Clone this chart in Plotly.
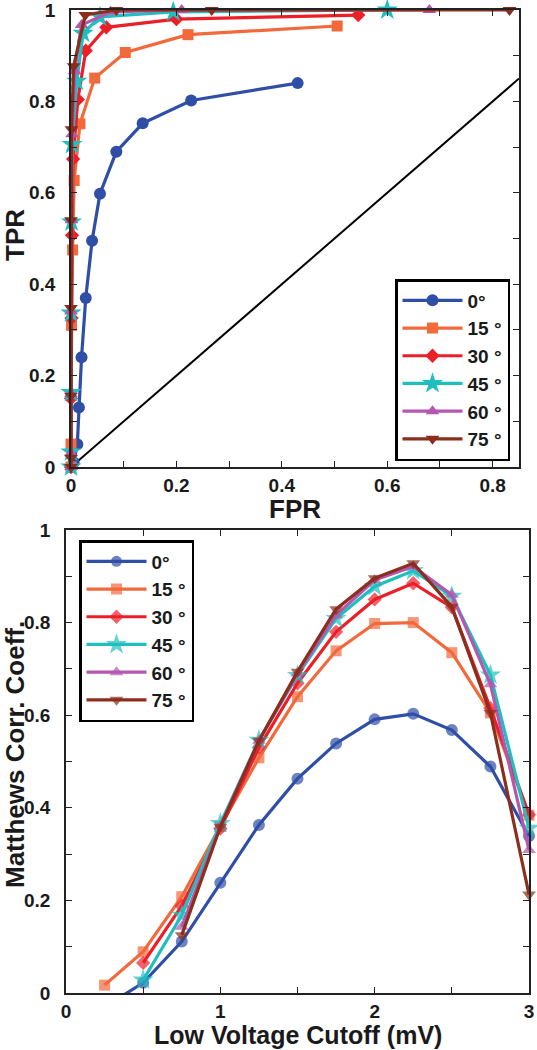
import plotly.graph_objects as go

W, H = 537, 1050

angles = ["0°", "15 °", "30 °", "45 °", "60 °", "75 °"]
colors = ["#2F4EA6", "#F2693C", "#EC1F28", "#1FBFC0", "#B457AE", "#8C2E1D"]
symbols = ["circle", "square", "diamond", "star", "triangle-up", "triangle-down"]
msizes = [12, 11, 11, 16, 12, 12]

# ROC data (FPR, TPR)
fpr_0 = [0.0, 0.005, 0.012, 0.015, 0.020, 0.028, 0.040, 0.055, 0.086, 0.136, 0.228, 0.43]
tpr_0 = [0.0, 0.01, 0.05, 0.13, 0.24, 0.37, 0.495, 0.598, 0.69, 0.752, 0.802, 0.84]
fpr_15 = [0.0, 0.0, 0.001, 0.003, 0.006, 0.017, 0.045, 0.103, 0.222, 0.505]
tpr_15 = [0.0, 0.05, 0.31, 0.475, 0.627, 0.751, 0.851, 0.907, 0.946, 0.965]
fpr_30 = [0.0, 0.0, 0.001, 0.002, 0.004, 0.013, 0.028, 0.067, 0.2, 0.545]
tpr_30 = [0.0, 0.15, 0.326, 0.507, 0.674, 0.804, 0.911, 0.962, 0.980, 0.989]
fpr_45 = [0.0, 0.0, 0.0, 0.0, 0.001, 0.002, 0.011, 0.023, 0.055, 0.194, 0.6]
tpr_45 = [0.0, 0.033, 0.163, 0.337, 0.536, 0.706, 0.844, 0.949, 0.985, 0.996, 1.0]
fpr_60 = [0.0, 0.0, 0.0, 0.0, 0.001, 0.002, 0.007, 0.02, 0.075, 0.21, 0.68]
tpr_60 = [0.0, 0.03, 0.16, 0.34, 0.54, 0.728, 0.866, 0.967, 0.996, 1.0, 1.0]
fpr_75 = [0.0, 0.0, 0.0, 0.0, 0.0, 0.001, 0.005, 0.027, 0.086, 0.267, 0.832]
tpr_75 = [0.0, 0.02, 0.156, 0.348, 0.54, 0.739, 0.877, 0.989, 1.0, 1.0, 1.0]
chance = [0.0, 0.85]

# Matthews correlation vs low voltage cutoff
cutoff = [0.25, 0.5, 0.75, 1.0, 1.25, 1.5, 1.75, 2.0, 2.25, 2.5, 2.75, 3.0]
mcc_0 = [-0.03, 0.022, 0.111, 0.238, 0.363, 0.463, 0.539, 0.591, 0.603, 0.568, 0.489, 0.339]
mcc_15 = [0.017, 0.089, 0.208, 0.36, 0.508, 0.640, 0.739, 0.798, 0.800, 0.735, 0.605, 0.384]
mcc_30 = [None, 0.065, 0.188, 0.355, 0.53, 0.669, 0.780, 0.850, 0.885, 0.833, 0.615, 0.385]
mcc_45 = [None, 0.028, 0.168, 0.366, 0.546, 0.686, 0.809, 0.878, 0.912, 0.857, 0.687, 0.356]
mcc_60 = [None, None, 0.143, 0.36, 0.545, 0.69, 0.816, 0.892, 0.921, 0.860, 0.667, 0.309]
mcc_75 = [None, None, 0.125, 0.359, 0.545, 0.694, 0.829, 0.896, 0.928, 0.834, 0.605, 0.213]

roc = [(fpr_0, tpr_0), (fpr_15, tpr_15), (fpr_30, tpr_30),
       (fpr_45, tpr_45), (fpr_60, tpr_60), (fpr_75, tpr_75)]
mcc = [mcc_0, mcc_15, mcc_30, mcc_45, mcc_60, mcc_75]

FONT = "Liberation Sans, Arial, Helvetica, sans-serif"

fig = go.Figure()
fig.add_trace(go.Scatter(x=chance, y=chance, mode="lines",
                         line=dict(color="black", width=2),
                         showlegend=False, xaxis="x", yaxis="y", hoverinfo="skip"))
for i, (fx, ty) in enumerate(roc):
    fig.add_trace(go.Scatter(
        x=fx, y=ty, mode="lines+markers", name=angles[i],
        line=dict(color=colors[i], width=3.2),
        marker=dict(symbol=symbols[i], size=msizes[i], color=colors[i], line=dict(width=0)),
        xaxis="x", yaxis="y", legend="legend", cliponaxis=False))

for i, yv in enumerate(mcc):
    sizes = [0 if (v is not None and v < 0) else msizes[i] for v in yv]
    fig.add_trace(go.Scatter(
        x=cutoff, y=yv, mode="lines+markers", name=angles[i],
        line=dict(color=colors[i], width=3.2),
        marker=dict(symbol=symbols[i], size=sizes, color=colors[i], line=dict(width=0)),
        xaxis="x2", yaxis="y2", legend="legend2", cliponaxis=False))

tickfont = dict(family=FONT, size=19, color="#1a1a1a", weight="bold")

def ticks(vals, labelstep):
    txt = []
    for k, v in enumerate(vals):
        txt.append(("%g" % v) if k % labelstep == 0 else "")
    return txt

tv01 = [round(0.1 * k, 1) for k in range(0, 9)]
tvy = [round(0.1 * k, 1) for k in range(0, 11)]
tvx2 = [0.5 * k for k in range(0, 7)]

axis_common = dict(showline=True, linecolor="#222", linewidth=1.5, mirror="ticks",
                   ticks="inside", ticklen=6, tickwidth=1.2, tickcolor="#222",
                   showgrid=False, zeroline=False, tickfont=tickfont, automargin=False,
                   ticklabeloverflow="allow")

legend_common = dict(xanchor="left", yanchor="top",
                     bgcolor="white", bordercolor="black", borderwidth=2.5,
                     font=dict(family=FONT, size=19, color="#1a1a1a", weight="bold"),
                     tracegroupgap=0, itemsizing="trace", itemwidth=60)

fig.update_layout(
    width=W, height=H,
    margin=dict(l=0, r=0, t=0, b=0),
    plot_bgcolor="white", paper_bgcolor="white",
    xaxis=dict(domain=[71 / W, 519 / W], range=[0, 0.85], anchor="y",
               tickmode="array", tickvals=tv01, ticktext=ticks(tv01, 2),
               ticklabelstandoff=0, **axis_common),
    yaxis=dict(domain=[1 - 467 / H, 1 - 10 / H], range=[0, 1], anchor="x",
               tickmode="array", tickvals=tvy, ticktext=ticks(tvy, 2),
               ticklabelstandoff=10, **axis_common),
    xaxis2=dict(domain=[66 / W, 529 / W], range=[0, 3.0], anchor="y2",
                tickmode="array", tickvals=tvx2, ticktext=ticks(tvx2, 2),
                ticklabelstandoff=0, **axis_common),
    yaxis2=dict(domain=[1 - 993 / H, 1 - 530 / H], range=[0, 1], anchor="x2",
                tickmode="array", tickvals=tvy, ticktext=ticks(tvy, 2),
                ticklabelstandoff=10, **axis_common),
    legend=dict(x=395 / W, y=1 - 279 / H, **legend_common),
    legend2=dict(x=79 / W, y=1 - 540 / H, **legend_common),
    showlegend=True,
)

title_font = dict(family=FONT, size=26, color="#1a1a1a", weight="bold")
fig.add_annotation(text="FPR", x=295 / W, y=1 - 509 / H, xref="paper", yref="paper",
                   showarrow=False, font=title_font, xanchor="center", yanchor="middle")
fig.add_annotation(text="TPR", x=15 / W, y=1 - 235 / H, xref="paper", yref="paper",
                   showarrow=False, font=title_font, textangle=-90,
                   xanchor="center", yanchor="middle")
fig.add_annotation(text="Matthews Corr. Coeff.", x=15 / W, y=1 - 755 / H, xref="paper",
                   yref="paper", showarrow=False,
                   font=dict(family=FONT, size=26, color="#1a1a1a", weight="bold"),
                   textangle=-90, xanchor="center", yanchor="middle")
fig.add_annotation(text="Low Voltage Cutoff (mV)", x=298 / W, y=1 - 1035 / H, xref="paper",
                   yref="paper", showarrow=False,
                   font=dict(family=FONT, size=25, color="#1a1a1a", weight="bold"),
                   xanchor="center", yanchor="middle")

fig.write_html("out.html", config={"displayModeBar": False},
               post_script="document.body.style.margin='0';document.body.style.overflow='hidden';")
